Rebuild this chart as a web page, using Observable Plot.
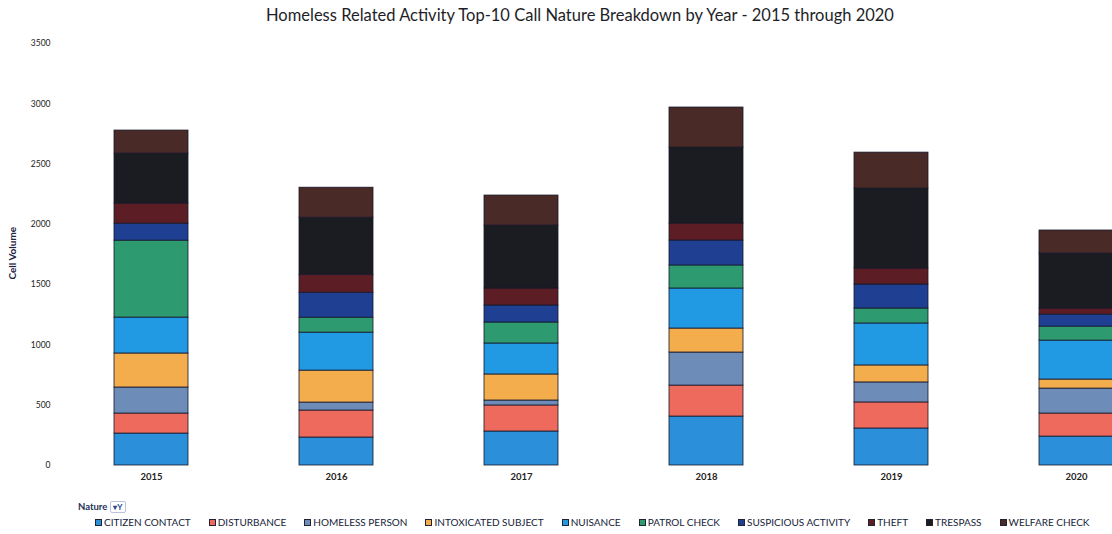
<!DOCTYPE html>
<html>
<head>
<meta charset="utf-8">
<script src="https://cdn.jsdelivr.net/npm/d3@7"></script>
<script src="https://cdn.jsdelivr.net/npm/@observablehq/plot@0.6"></script>
<style>
  html, body { margin: 0; padding: 0; background: #fff; overflow: hidden; }
  body { width: 1112px; height: 534px; font-family: Lato, "Liberation Sans", Arial, sans-serif; }
  #title { height: 30px; line-height: 30px; font-size: 16.5px; color: #1e1e28; text-align: center; padding-left: 48px; white-space: nowrap; }
  #chart svg { display: block; }
  #legend { position: relative; height: 44px; }
  #field { position: absolute; left: 78px; top: 11px; font-size: 9.5px; font-weight: bold; color: #23305a; }
  #field .btn { display: inline-block; margin-left: 3px; padding: 0 2px; border: 1px solid #b8c4dc; border-radius: 2px; font-size: 8px; color: #2a4a8a; }
  #items { position: absolute; left: 95px; top: 26px; display: flex; gap: 18px; white-space: nowrap; }
  .item { display: flex; align-items: center; font-size: 10px; color: #161c38; }
  .sw { width: 5px; height: 5px; margin-right: 2px; border: 0.5px solid #223; }
</style>
</head>
<body>
<div id="title">Homeless Related Activity Top-10 Call Nature Breakdown by Year - 2015 through 2020</div>
<div id="chart"></div>
<div id="legend">
  <div id="field">Nature<span class="btn">▾Y</span></div>
  <div id="items"></div>
</div>
<script>
// Call volume per call nature and year
const years = ["2015", "2016", "2017", "2018", "2019", "2020"];
const natures = ["CITIZEN CONTACT", "DISTURBANCE", "HOMELESS PERSON", "INTOXICATED SUBJECT", "NUISANCE",
                 "PATROL CHECK", "SUSPICIOUS ACTIVITY", "THEFT", "TRESPASS", "WELFARE CHECK"];
const citizenContact     = [265, 232, 282, 406, 307, 240];
const disturbance        = [166, 224, 216, 257, 216, 191];
const homelessPerson     = [216,  66,  41, 274, 166, 207];
const intoxicatedSubject = [282, 265, 216, 199, 141,  75];
const nuisance           = [298, 315, 257, 332, 348, 323];
const patrolCheck        = [638, 124, 174, 191, 124, 116];
const suspiciousActivity = [141, 207, 141, 207, 199, 100];
const theft              = [166, 149, 141, 141, 133,  50];
const trespass           = [415, 473, 522, 630, 663, 456];
const welfareCheck       = [191, 249, 249, 332, 298, 191];
const natureColors = ["#2b8fd9", "#ee6a5c", "#6d8db8", "#f4ad4c", "#2299e3",
                      "#2e9a70", "#1e3f92", "#5c1e24", "#1b1c22", "#4a2a26"];
const yTicks = [0, 500, 1000, 1500, 2000, 2500, 3000, 3500];

const seriesValues = [citizenContact, disturbance, homelessPerson, intoxicatedSubject, nuisance,
                      patrolCheck, suspiciousActivity, theft, trespass, welfareCheck];

// long-format rows, stacked bottom-up in nature order
const rows = [];
years.forEach((year, i) => {
  natures.forEach((nature, k) => rows.push({year, nature, value: seriesValues[k][i]}));
});

const chart = Plot.plot({
  width: 1112,
  height: 460,
  marginTop: 13,
  marginBottom: 25,
  marginLeft: 57,
  marginRight: 0,
  style: {fontFamily: "Lato, Liberation Sans, Arial, sans-serif", color: "#222", background: "transparent"},
  x: {domain: years, range: [2, 1225], padding: 0.6, label: null},
  y: {domain: [0, 3500], label: null},
  color: {domain: natures, range: natureColors},
  marks: [
    Plot.barY(rows, {x: "year", y: "value", fill: "nature", stroke: "#16172a", strokeWidth: 0.8}),
    Plot.axisX({tickSize: 0, tickPadding: 8, fontSize: 9.5, fontWeight: "bold", label: null}),
    Plot.axisY({ticks: yTicks, tickSize: 0, tickPadding: 7, tickFormat: "d", fontSize: 8.5, label: null}),
    Plot.text(["Cell Volume"], {frameAnchor: "left", rotate: -90, dx: -45, dy: 25, fontSize: 10, fontWeight: "bold", fill: "#1d2442"})
  ]
});
document.getElementById("chart").append(chart);

// legend built from the same color scale
const items = document.getElementById("items");
natures.forEach((n, k) => {
  const item = document.createElement("div");
  item.className = "item";
  const sw = document.createElement("span");
  sw.className = "sw";
  sw.style.background = chart.scale("color").apply(n);
  item.append(sw, document.createTextNode(n));
  items.append(item);
});
</script>
</body>
</html>
